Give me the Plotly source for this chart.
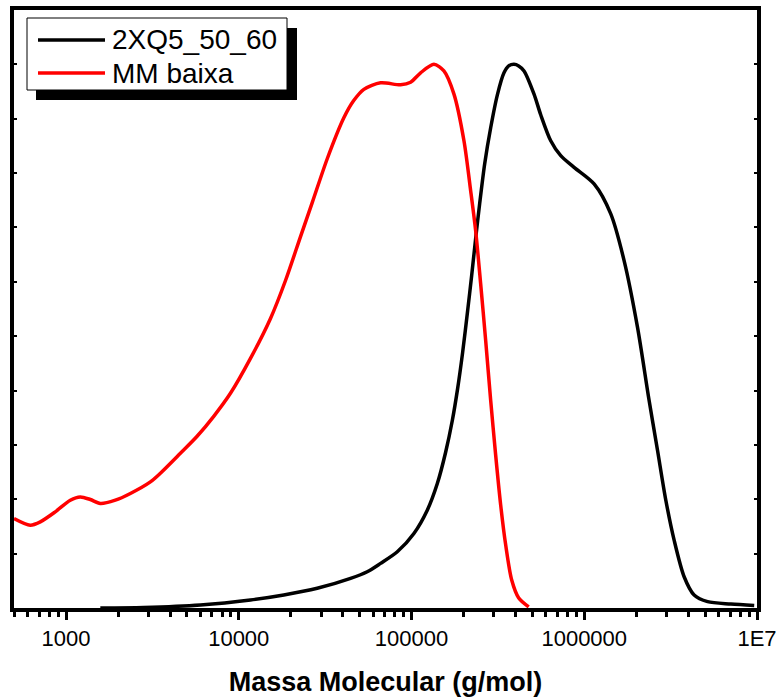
import plotly.graph_objects as go

# Sample 2XQ5_50_60 (black)
m_black = [1580, 2816, 6000, 11690, 18230, 28460, 44380, 55430, 66220, 82750,
           103250, 123400, 141100, 157600, 172400, 185000, 197700, 211400, 223000,
           235100, 248100, 265300, 287300, 314100, 343100, 365300, 392000, 417400,
           448100, 512000, 559800, 639700, 730900, 873000, 1140000, 1424000, 1701000,
           2033000, 2373000, 2655000, 2966000, 3313000, 3786000, 4326000, 5174000,
           7061000, 9635000]
w_black = [0.0, 0.001, 0.0055, 0.0147, 0.0239, 0.0362, 0.0545, 0.0667, 0.0821, 0.1034,
           0.1372, 0.180, 0.229, 0.2865, 0.3453, 0.404, 0.4702, 0.5473, 0.6116,
           0.6795, 0.7438, 0.8173, 0.8834, 0.944, 0.9844, 0.9972, 1.0, 0.9972,
           0.988, 0.9453, 0.9073, 0.8595, 0.832, 0.8105, 0.780, 0.7249, 0.639,
           0.5166, 0.382, 0.2902, 0.1983, 0.1249, 0.0575, 0.0239, 0.0116,
           0.0073, 0.0046]

# Sample MM baixa (red)
m_red = [500, 621, 710, 867, 1059, 1210, 1383, 1580, 1930, 2358, 3079, 3519, 4595,
         5741, 7165, 8952, 11690, 15267, 18650, 22780, 26630, 32530, 40580, 46190,
         52990, 66220, 86480, 98810, 112900, 134850, 154000, 176100, 201200,
         220000, 235100, 251300, 268700, 287300, 307100, 328300, 351000, 380200,
         417400, 476900]
w_red = [0.1647, 0.1524, 0.1585, 0.1769, 0.1983, 0.2044, 0.1996, 0.1923, 0.1983,
         0.2107, 0.2320, 0.2480, 0.2847, 0.3159, 0.3526, 0.3949, 0.4591, 0.5326,
         0.6024, 0.6832, 0.7456, 0.8264, 0.9017, 0.933, 0.9541, 0.966, 0.9624,
         0.967, 0.9844, 1.0, 0.9881, 0.9453, 0.8595, 0.7677, 0.6942, 0.5969,
         0.4922, 0.3820, 0.2810, 0.1892, 0.1157, 0.0514, 0.0184, 0.002]

series_names = ["2XQ5_50_60", "MM baixa"]
series_colors = ["black", "#ff0000"]

x_tickvals = [1000, 10000, 100000, 1000000, 10000000]
x_ticktext = ["1000", "10000", "100000", "1000000", "1E7"]

FONT = "Liberation Sans, Arial, Helvetica, sans-serif"

fig = go.Figure()
fig.add_trace(go.Scatter(x=m_black, y=w_black, mode="lines", name=series_names[0],
                         line=dict(color=series_colors[0], width=3.5, shape="spline", smoothing=0.8),
                         showlegend=False))
fig.add_trace(go.Scatter(x=m_red, y=w_red, mode="lines", name=series_names[1],
                         line=dict(color=series_colors[1], width=3.5, shape="spline", smoothing=0.8),
                         showlegend=False))

# figure fills the whole window (body margin removed in post_script)
W, H = 777, 697
# plot area in window pixels: x 14..757, y 10..608
L, R, T, B = 14, W - 757, 10, H - 608
pw, ph = W - L - R, H - T - B


def px(x):
    return (x - L) / pw


def py(y):
    return (H - B - y) / ph


shapes = []
shapes.append(dict(type="rect", xref="paper", yref="paper", x0=px(36), x1=px(297),
                   y0=py(100), y1=py(28), fillcolor="black", line=dict(width=0), layer="above"))
shapes.append(dict(type="rect", xref="paper", yref="paper", x0=px(27), x1=px(287),
                   y0=py(90), y1=py(18), fillcolor="white", line=dict(color="black", width=1),
                   layer="above"))
annotations = []
for i, (nm, col) in enumerate(zip(series_names, series_colors)):
    yy = 40 + i * 33
    shapes.append(dict(type="line", xref="paper", yref="paper", x0=px(38), x1=px(105),
                       y0=py(yy), y1=py(yy), line=dict(color=col, width=3.5), layer="above"))
    annotations.append(dict(xref="paper", yref="paper", x=px(110), y=py(yy), text=nm,
                            showarrow=False, xanchor="left", yanchor="middle",
                            font=dict(family=FONT, size=28, color="black")))

fig.update_layout(
    width=W, height=H,
    margin=dict(l=L, r=R, t=T, b=B, autoexpand=False),
    paper_bgcolor="white", plot_bgcolor="white",
    shapes=shapes, annotations=annotations,
    font=dict(family=FONT, color="black"),
)
fig.update_xaxes(
    type="log", range=[2.69897, 7.0],
    tickvals=x_tickvals, ticktext=x_ticktext,
    tickfont=dict(family=FONT, size=22),
    ticks="outside", ticklen=8, tickwidth=3, tickcolor="black",
    minor=dict(ticks="outside", ticklen=5, tickwidth=3, tickcolor="black", dtick="D1", showgrid=False),
    showline=True, linewidth=4, linecolor="black", mirror=True,
    showgrid=False, zeroline=False, automargin=False, ticklabeloverflow="allow",
    title=dict(text="<b>Massa Molecular (g/mol)</b>", font=dict(family=FONT, size=27), standoff=29),
)
fig.update_yaxes(
    range=[0, 1.1], dtick=0.1, showticklabels=False,
    ticks="inside", ticklen=3, tickwidth=2, tickcolor="black",
    showline=True, linewidth=4, linecolor="black", mirror="ticks",
    showgrid=False, zeroline=False, automargin=False,
)

fig.write_html(
    "out.html",
    config={"displayModeBar": False},
    post_script="document.body.style.margin='0';document.body.style.overflow='hidden';",
)
